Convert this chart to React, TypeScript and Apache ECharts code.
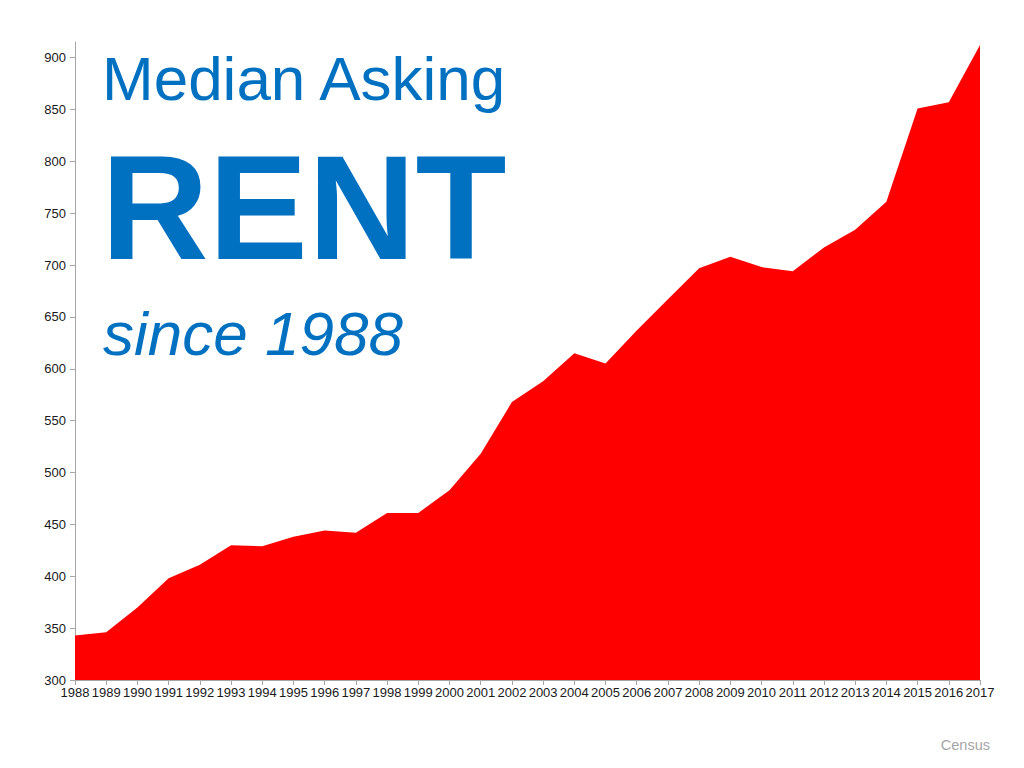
import { useEffect, useRef } from "react";
import * as echarts from "echarts";

const years = [
  "1988", "1989", "1990", "1991", "1992", "1993", "1994", "1995", "1996", "1997",
  "1998", "1999", "2000", "2001", "2002", "2003", "2004", "2005", "2006", "2007",
  "2008", "2009", "2010", "2011", "2012", "2013", "2014", "2015", "2016", "2017",
];
const medianRent = [
  343, 346, 370, 398, 411, 430, 429, 438, 444, 442,
  461, 461, 483, 518, 568, 588, 615, 605, 637, 667,
  697, 708, 698, 694, 717, 734, 761, 851, 857, 912,
];
const yTickValues = [300, 350, 400, 450, 500, 550, 600, 650, 700, 750, 800, 850, 900];

const FONT = "'Liberation Sans', Arial, Helvetica, sans-serif";
const BLUE = "#0070C0";

export default function App() {
  const ref = useRef<HTMLDivElement>(null);
  useEffect(() => {
    const chart = echarts.init(ref.current!, null, { renderer: "svg" });
    chart.setOption({
      animation: false,
      backgroundColor: "#ffffff",
      grid: { left: 75, right: 44, top: 42, bottom: 88, containLabel: false },
      xAxis: {
        type: "category",
        data: years,
        boundaryGap: false,
        axisLine: { show: true, lineStyle: { color: "#a6a6a6", width: 1 } },
        axisTick: { show: true, interval: 0, length: 5, lineStyle: { color: "#a6a6a6" } },
        axisLabel: { interval: 0, fontSize: 13, color: "#1a1a1a", margin: 6, fontFamily: FONT },
        splitLine: { show: false },
      },
      yAxis: {
        type: "value",
        min: 300,
        max: 915,
        axisLine: { show: true, lineStyle: { color: "#a6a6a6", width: 1 } },
        axisTick: { show: true, length: 5, customValues: yTickValues, lineStyle: { color: "#a6a6a6" } },
        axisLabel: { customValues: yTickValues, fontSize: 13, color: "#1a1a1a", margin: 9, fontFamily: FONT },
        splitLine: { show: false },
      },
      series: [
        {
          type: "line",
          data: medianRent,
          symbol: "none",
          lineStyle: { width: 0, color: "#FF0000" },
          itemStyle: { color: "#FF0000" },
          areaStyle: { color: "#FF0000", opacity: 1 },
        },
      ],
      graphic: [
        {
          type: "text",
          x: 102,
          y: 78,
          style: {
            text: "Median Asking",
            fill: BLUE,
            fontSize: 62,
            fontFamily: FONT,
            textAlign: "left",
            textVerticalAlign: "middle",
            align: "left",
            verticalAlign: "middle",
          },
        },
        {
          type: "text",
          x: 101,
          y: 207,
          style: {
            text: "RENT",
            fill: BLUE,
            fontSize: 149,
            fontWeight: "bold",
            fontFamily: FONT,
            textAlign: "left",
            textVerticalAlign: "middle",
            align: "left",
            verticalAlign: "middle",
          },
        },
        {
          type: "text",
          x: 103,
          y: 333,
          style: {
            text: "since 1988",
            fill: BLUE,
            fontSize: 62,
            fontStyle: "italic",
            fontFamily: FONT,
            textAlign: "left",
            textVerticalAlign: "middle",
            align: "left",
            verticalAlign: "middle",
          },
        },
        {
          type: "text",
          x: 990,
          y: 745,
          style: {
            text: "Census",
            fill: "#a6a6a6",
            fontSize: 14.5,
            fontFamily: FONT,
            textAlign: "right",
            textVerticalAlign: "middle",
            align: "right",
            verticalAlign: "middle",
          },
        },
      ],
    });
    return () => chart.dispose();
  }, []);
  return (
    <div
      ref={ref}
      style={{ position: "fixed", left: 0, top: 0, width: 1024, height: 768 }}
    />
  );
}
